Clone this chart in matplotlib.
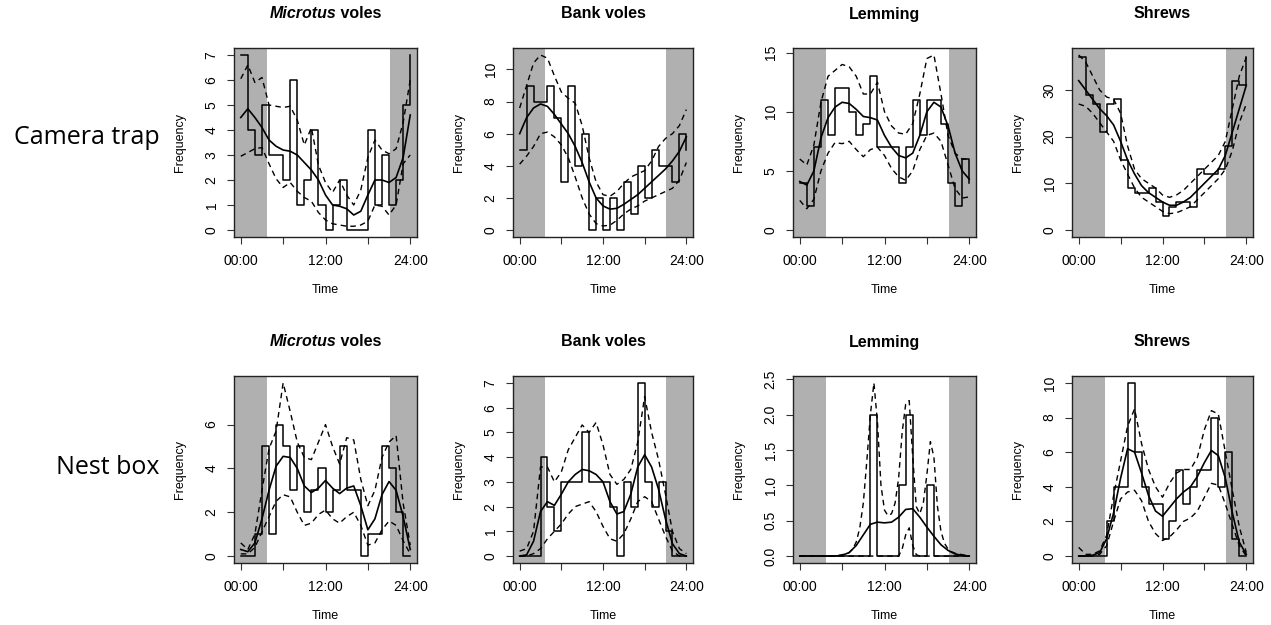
import matplotlib
matplotlib.use('Agg')
import matplotlib.pyplot as plt

plt.rcParams['font.family'] = ['Liberation Sans', 'DejaVu Sans']

W, H = 1271, 625

hours = list(range(25))
half_hours = [h / 2 for h in range(49)]
night_end = 3.7
night_start = 21.1

# ---- camera trap ----
cam_microtus_hist = [7, 4, 3, 5, 3, 3, 2, 6, 1, 2, 4, 1, 0, 1, 2, 0, 0, 0, 4, 1, 3, 1, 2, 5]
cam_microtus_mean = [4.5, 4.85, 4.5, 4.1, 3.6, 3.35, 3.2, 3.15, 3.0, 2.7, 2.4, 2.0, 1.4,
                     1.0, 0.95, 0.85, 0.6, 0.75, 1.4, 2.0, 2.0, 1.9, 2.1, 2.9, 4.6]
cam_microtus_hi = [6.05, 6.6, 5.9, 6.1, 5.0, 4.95, 4.9, 4.95, 4.4, 3.4, 4.1, 2.6, 1.9,
                   1.5, 2.0, 1.4, 1.0, 1.6, 2.9, 3.6, 3.2, 3.05, 3.25, 4.3, 6.0]
cam_microtus_lo = [2.95, 3.1, 3.25, 3.3, 2.65, 2.05, 1.7, 1.9, 1.55, 1.3, 1.15, 0.7, 0.4,
                   0.25, 0.2, 0.15, 0.15, 0.2, 0.35, 1.0, 0.95, 0.6, 1.0, 2.65, 3.0]

cam_bank_hist = [5, 9, 8, 8, 9, 7, 3, 9, 4, 6, 0, 2, 0, 2, 0, 3, 1, 4, 2, 5, 4, 4, 3, 6]
cam_bank_mean = [6.0, 7.0, 7.6, 7.85, 7.7, 7.2, 6.6, 6.0, 5.2, 4.2, 3.0, 2.0, 1.5,
                 1.3, 1.35, 1.6, 1.9, 2.2, 2.6, 3.0, 3.4, 3.8, 4.3, 4.9, 5.8]
cam_bank_hi = [7.6, 9.0, 10.4, 10.9, 10.7, 9.6, 8.6, 8.2, 7.9, 6.5, 4.5, 3.0, 2.2,
               2.1, 2.4, 2.9, 3.3, 3.5, 3.7, 4.3, 5.2, 5.7, 6.0, 6.5, 7.5]
cam_bank_lo = [4.1, 4.6, 5.2, 6.0, 6.1, 5.8, 5.3, 4.5, 3.3, 2.0, 1.0, 0.4, 0.25,
               0.3, 0.6, 1.0, 1.3, 1.5, 1.8, 2.0, 2.2, 2.4, 2.6, 3.1, 4.2]

cam_lemming_hist = [4, 2, 7, 11, 8, 12, 12, 10, 8, 9, 13, 7, 7, 7, 4, 7, 11, 8, 11, 11, 9, 4, 2, 6]
cam_lemming_mean = [4.1, 3.8, 5.0, 7.8, 9.5, 10.4, 10.8, 10.7, 10.2, 9.6, 9.5, 9.3, 8.0,
                    7.0, 6.3, 6.1, 6.5, 8.0, 10.0, 10.8, 10.4, 8.8, 6.5, 5.0, 4.3]
cam_lemming_hi = [6.0, 5.5, 7.2, 10.8, 13.0, 13.5, 14.0, 13.8, 13.0, 11.5, 11.5, 12.5, 10.0,
                  8.8, 8.2, 8.1, 9.0, 11.5, 14.5, 14.8, 11.5, 8.0, 6.5, 6.0, 6.0]
cam_lemming_lo = [2.5, 1.8, 2.6, 5.0, 6.5, 7.4, 7.3, 7.5, 6.8, 6.2, 6.8, 7.0, 6.3,
                  5.2, 4.5, 4.2, 5.0, 6.8, 8.0, 8.2, 7.5, 5.5, 3.5, 2.7, 2.8]

cam_shrews_hist = [37, 29, 27, 21, 27, 28, 15, 9, 8, 8, 9, 6, 3, 5, 6, 6, 5, 13, 12, 12, 13, 18, 32, 31]
cam_shrews_mean = [32, 30, 28, 26, 24.5, 22.5, 19, 15, 12, 9.5, 8, 7, 6,
                   5.3, 5.3, 6, 7, 8.5, 10, 11.5, 13, 16, 21, 26, 31]
cam_shrews_hi = [37.5, 36, 33, 30, 28.5, 28, 25, 18, 13, 11, 10, 9, 7.5,
                 7, 7.5, 8.5, 10, 11.5, 13, 14.5, 16, 19, 26, 33, 37]
cam_shrews_lo = [27, 26.5, 25, 23, 21, 19, 15, 12, 9, 7, 6, 5, 4,
                 3.5, 3.7, 4.3, 5, 6.5, 8, 9.5, 11, 13, 17, 23, 27]

# ---- nest box ----
nest_microtus_hist = [0, 0, 1, 5, 1, 6, 5, 3, 5, 2, 3, 4, 2, 3, 5, 3, 3, 0, 1, 1, 5, 4, 2, 0]
nest_microtus_mean = [0.3, 0.2, 0.6, 1.7, 3.0, 4.1, 4.55, 4.5, 4.0, 3.2, 2.9, 3.1, 3.45,
                      3.1, 2.85, 3.1, 3.2, 2.3, 1.2, 1.7, 2.8, 3.4, 3.0, 1.8, 0.3]
nest_microtus_hi = [0.6, 0.3, 1.0, 3.0, 4.9, 5.7, 7.9, 6.6, 5.2, 4.5, 4.4, 5.2, 6.0,
                    5.0, 4.2, 5.4, 5.3, 3.5, 2.3, 3.0, 4.5, 5.2, 5.5, 2.4, 0.5]
nest_microtus_lo = [0.1, 0.1, 0.4, 1.1, 1.8, 2.5, 2.8, 2.7, 2.0, 1.4, 1.5, 1.9, 2.1,
                    1.7, 1.5, 1.8, 2.0, 1.4, 0.5, 0.6, 1.2, 1.6, 1.4, 0.7, 0.1]

nest_bank_hist = [0, 0, 0, 4, 2, 1, 3, 3, 3, 5, 3, 3, 3, 2, 0, 3, 2, 7, 3, 2, 3, 1, 0, 0]
nest_bank_mean = [0.0, 0.05, 0.6, 1.8, 2.2, 2.05, 2.5, 3.0, 3.3, 3.5, 3.45, 3.3, 3.0,
                  2.2, 1.7, 1.8, 2.5, 3.6, 4.1, 3.6, 2.7, 1.5, 0.5, 0.1, 0.0]
nest_bank_hi = [0.2, 0.3, 1.0, 3.6, 3.6, 3.0, 3.4, 4.3, 4.8, 5.3, 5.0, 5.4, 4.5,
                3.3, 2.9, 3.1, 3.5, 4.6, 6.45, 5.0, 3.9, 2.5, 1.0, 0.3, 0.1]
nest_bank_lo = [0.0, 0.0, 0.1, 0.3, 0.7, 1.0, 1.3, 1.7, 2.0, 2.1, 2.2, 1.8, 1.2,
                0.7, 0.6, 0.9, 1.5, 2.2, 2.4, 2.2, 1.5, 0.8, 0.2, 0.0, 0.0]

nest_lemming_hist = [0, 0, 0, 0, 0, 0, 0, 0, 0, 0, 2, 0, 0, 0, 1, 2, 0, 0, 1, 0, 0, 0, 0, 0]
nest_lemming_mean = [0, 0, 0, 0, 0, 0, 0.01, 0.05, 0.15, 0.3, 0.45, 0.48, 0.47,
                     0.48, 0.55, 0.66, 0.67, 0.55, 0.41, 0.28, 0.16, 0.08, 0.03, 0.01, 0]
nest_lemming_hi = [0, 0, 0, 0, 0, 0, 0, 0, 0, 0, 0,
                   0.01, 0.02, 0.03, 0.05, 0.1, 0.2, 0.4, 0.75, 1.35, 2.0, 2.45, 1.9, 1.0,
                   0.65, 0.57, 0.6, 0.75, 1.1, 1.75, 2.15, 2.2, 1.4, 0.7, 0.6, 0.75, 1.15,
                   1.62, 1.4, 0.7, 0.35, 0.18, 0.1, 0.06, 0.04, 0.03, 0.02, 0.01, 0.0]
nest_lemming_lo = [0] * 29 + [0.1, 0.3, 0.4, 0.15, 0.02] + [0] * 15

nest_shrews_hist = [0, 0, 0, 0, 2, 4, 4, 10, 6, 4, 3, 3, 1, 2, 5, 3, 4, 5, 5, 8, 4, 6, 1, 0]
nest_shrews_mean = [0.0, 0.0, 0.05, 0.2, 1.0, 2.5, 4.5, 6.2, 6.0, 4.8, 3.5, 2.6, 2.3,
                    2.8, 3.3, 3.7, 4.0, 4.6, 5.4, 6.1, 5.8, 4.5, 2.5, 0.8, 0.1]
nest_shrews_hi = [0.5, 0.1, 0.1, 0.3, 1.2, 3.5, 5.5, 7.5, 8.5, 6.5, 5.0, 4.0, 3.4,
                  4.2, 4.8, 5.0, 5.0, 5.7, 7.3, 8.4, 8.2, 6.0, 3.8, 1.7, 0.2]
nest_shrews_lo = [0.0, 0.0, 0.0, 0.1, 0.6, 2.0, 3.3, 3.7, 3.8, 3.2, 2.0, 1.3, 0.9,
                  1.1, 1.5, 2.0, 2.2, 2.6, 3.4, 4.2, 4.1, 3.0, 1.8, 0.6, 0.0]

titles = ['Microtus voles', 'Bank voles', 'Lemming', 'Shrews']
lemming_nest_yticks = ['0.0', '0.5', '1.0', '1.5', '2.0', '2.5']

fig = plt.figure(figsize=(W / 100, H / 100), dpi=100)


def add_panel(box, title, hist, mean, lo, hi, yticks, ylabels=None, mean_x=hours, ci_x=hours):
    l, t, r, b = box
    ax = fig.add_axes([l / W, 1 - b / H, (r - l) / W, (b - t) / H])
    ymax = max(max(hist), max(hi))
    pad = 0.04 * ymax
    ax.set_xlim(-0.96, 24.96)
    ax.set_ylim(-pad, ymax + pad)
    ax.axvspan(-0.96, night_end, color='#b0b0b0', lw=0, zorder=0)
    ax.axvspan(night_start, 24.96, color='#b0b0b0', lw=0, zorder=0)
    ax.step(hours, hist + hist[:1], where='post', color='black', lw=1.1)
    ax.plot(mean_x, mean, color='black', lw=1.2)
    ax.plot(ci_x, hi, color='black', lw=1.0, dashes=(4, 3))
    ax.plot(ci_x, lo, color='black', lw=1.0, dashes=(4, 3))
    ax.set_xticks([0, 6, 12, 18, 24])
    ax.set_xticklabels(['00:00', '', '12:00', '', '24:00'])
    ax.set_yticks(yticks)
    if ylabels is None:
        ylabels = [str(v) for v in yticks]
    ax.set_yticklabels(ylabels)
    ax.tick_params(direction='out', length=5, width=0.8, labelsize=10, color='#333333')
    ax.tick_params(axis='x', pad=7)
    ax.tick_params(axis='y', labelrotation=90, pad=6)
    for lbl in ax.get_yticklabels():
        lbl.set_va('center')
    for sp in ax.spines.values():
        sp.set_linewidth(1.0)
        sp.set_color('#222222')
    ax.set_xlabel('Time', fontsize=9)
    ax.set_ylabel('Frequency', fontsize=9)
    ax.xaxis.set_label_coords(0.5, -53 / (b - t))
    ax.xaxis.label.set_va('center')
    ax.yaxis.set_label_coords(-54 / (r - l), 0.5)
    ax.yaxis.label.set_va('center')

    cx = (l + r) / 2 / W
    ty = 1 - (t - 34) / H
    if title.startswith('Microtus'):
        renderer = fig.canvas.get_renderer()
        t1 = fig.text(0, ty, 'Microtus', fontsize=11.5, fontweight='bold', style='italic',
                      va='center')
        t2 = fig.text(0, ty, ' voles', fontsize=11.5, fontweight='bold', va='center')
        w1 = t1.get_window_extent(renderer).width
        w2 = t2.get_window_extent(renderer).width
        x0 = cx * W - (w1 + w2) / 2
        t1.set_x(x0 / W)
        t2.set_x((x0 + w1) / W)
    else:
        fig.text(cx, ty, title, fontsize=11.5, fontweight='bold', ha='center', va='center')
    return ax


cols = [(234, 417), (513, 693), (793, 976), (1072, 1253)]
row1 = (48, 237)
row2 = (376, 563)

add_panel((cols[0][0], row1[0], cols[0][1], row1[1]), titles[0],
          cam_microtus_hist, cam_microtus_mean, cam_microtus_lo, cam_microtus_hi, [0, 1, 2, 3, 4, 5, 6, 7])
add_panel((cols[1][0], row1[0], cols[1][1], row1[1]), titles[1],
          cam_bank_hist, cam_bank_mean, cam_bank_lo, cam_bank_hi, [0, 2, 4, 6, 8, 10])
add_panel((cols[2][0], row1[0], cols[2][1], row1[1]), titles[2],
          cam_lemming_hist, cam_lemming_mean, cam_lemming_lo, cam_lemming_hi, [0, 5, 10, 15])
add_panel((cols[3][0], row1[0], cols[3][1], row1[1]), titles[3],
          cam_shrews_hist, cam_shrews_mean, cam_shrews_lo, cam_shrews_hi, [0, 10, 20, 30])

add_panel((cols[0][0], row2[0], cols[0][1], row2[1]), titles[0],
          nest_microtus_hist, nest_microtus_mean, nest_microtus_lo, nest_microtus_hi, [0, 2, 4, 6])
add_panel((cols[1][0], row2[0], cols[1][1], row2[1]), titles[1],
          nest_bank_hist, nest_bank_mean, nest_bank_lo, nest_bank_hi, [0, 1, 2, 3, 4, 5, 6, 7])
add_panel((cols[2][0], row2[0], cols[2][1], row2[1]), titles[2],
          nest_lemming_hist, nest_lemming_mean, nest_lemming_lo, nest_lemming_hi,
          [0.0, 0.5, 1.0, 1.5, 2.0, 2.5], ylabels=lemming_nest_yticks, ci_x=half_hours)
add_panel((cols[3][0], row2[0], cols[3][1], row2[1]), titles[3],
          nest_shrews_hist, nest_shrews_mean, nest_shrews_lo, nest_shrews_hi, [0, 2, 4, 6, 8, 10])

fig.text(160 / W, 1 - 137 / H, 'Camera trap', fontsize=18, family='Open Sans',
         ha='right', va='center')
fig.text(160 / W, 1 - 468 / H, 'Nest box', fontsize=18, family='Open Sans',
         ha='right', va='center')

fig.savefig('out.png', dpi=100)
